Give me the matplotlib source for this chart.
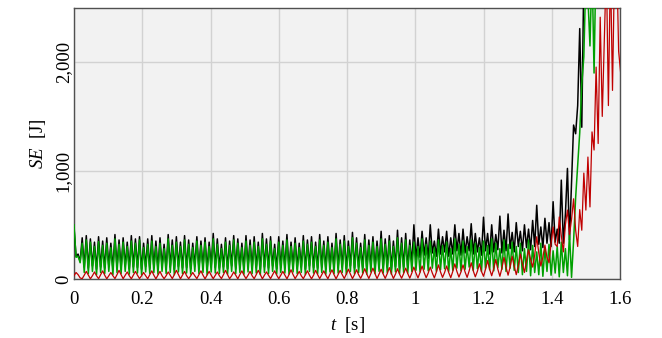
import numpy as np
import matplotlib
matplotlib.use("Agg")
import matplotlib.pyplot as plt
from matplotlib.ticker import FuncFormatter

t_step = 0.006

black_se = [
    470, 210, 230, 160, 380, 110, 400, 100, 370, 120, 340, 90, 390, 110, 350, 100, 380, 120, 330, 95,
    410, 110, 360, 100, 380, 120, 340, 95, 400, 110, 370, 105, 390, 90, 330, 115, 370, 100, 400, 110,
    350, 95, 380, 120, 320, 100, 410, 110, 360, 90, 390, 115, 340, 100, 400, 105, 360, 95, 330, 120,
    390, 100, 350, 110, 380, 90, 340, 115, 420, 105, 370, 100, 320, 110, 380, 95, 350, 120, 400, 100,
    370, 110, 330, 95, 400, 115, 360, 100, 390, 105, 340, 90, 420, 110, 370, 100, 390, 120, 320, 95,
    390, 110, 350, 105, 410, 95, 340, 115, 380, 100, 330, 110, 400, 90, 360, 120, 390, 105, 340, 100,
    410, 110, 350, 95, 390, 115, 330, 100, 420, 105, 360, 110, 400, 95, 350, 120, 430, 100, 380, 110,
    330, 105, 410, 95, 360, 115, 390, 100, 350, 120, 440, 105, 370, 110, 400, 95, 350, 115, 450, 100,
    380, 110, 420, 105, 360, 140, 500, 180, 380, 200, 440, 220, 380, 190, 500, 240, 350, 210, 460, 230,
    390, 250, 440, 210, 380, 230, 500, 260, 420, 220, 460, 240, 390, 260, 510, 230, 420, 250, 380, 220,
    570, 260, 420, 230, 500, 250, 410, 270, 580, 240, 450, 260, 600, 280, 430, 250, 520, 300, 440, 260,
    500, 290, 460, 270, 540, 300, 680, 320, 480, 290, 560, 330, 520, 300, 713, 340, 460, 330, 912, 330,
    600, 1020, 360, 900, 1420, 1340, 1600, 2310, 1400, 2800, 3000, 3200, 3100, 3400, 3300, 3600, 3500, 3700, 3600, 3900,
    3800, 4000, 3900, 4100, 4000, 4200, 4100, 4300,
]

green_se = [
    500, 200, 210, 150, 330, 60, 360, 50, 340, 70, 300, 40, 345, 60, 310, 50, 330, 70, 290, 40,
    370, 60, 320, 50, 340, 70, 300, 45, 350, 60, 330, 55, 360, 40, 290, 65, 320, 50, 350, 60,
    300, 45, 330, 70, 280, 50, 370, 60, 310, 40, 340, 65, 300, 50, 360, 55, 320, 45, 290, 70,
    350, 50, 310, 60, 340, 40, 300, 65, 370, 55, 320, 50, 280, 60, 340, 45, 310, 70, 360, 50,
    330, 60, 290, 45, 350, 65, 310, 50, 340, 55, 300, 40, 370, 60, 320, 50, 350, 70, 280, 45,
    340, 60, 310, 55, 360, 45, 300, 65, 330, 50, 290, 60, 350, 40, 320, 70, 340, 55, 300, 50,
    360, 60, 310, 45, 340, 65, 290, 50, 370, 55, 320, 60, 350, 45, 300, 70, 380, 50, 330, 60,
    290, 55, 360, 45, 310, 65, 340, 50, 300, 70, 370, 55, 320, 60, 350, 45, 300, 65, 380, 50,
    330, 60, 360, 55, 310, 70, 340, 80, 300, 65, 370, 90, 320, 75, 350, 100, 290, 70, 360, 85,
    310, 95, 340, 70, 280, 80, 370, 100, 320, 75, 350, 90, 300, 110, 360, 80, 330, 95, 290, 70,
    350, 100, 310, 85, 370, 75, 330, 105, 280, 90, 360, 70, 320, 100, 340, 80, 300, 60, 330, 40,
    280, 70, 360, 30, 310, 60, 250, 40, 330, 25, 290, 70, 320, 35, 260, 55, 300, 20, 340, 60,
    280, 30, 420, 15, 350, 750, 1050, 1350, 1800, 2050, 2800, 2600, 2150, 2900, 1900, 3000, 3300, 2900, 3400, 3100,
    3500, 3200, 3600, 3300, 3700, 3400, 3800, 3500,
]

red_se = [
    30, 60, 40, 10, 3, 35, 70, 35, 2, 30, 65, 30, 3, 40, 75, 35, 2, 30, 60, 30,
    4, 40, 80, 40, 3, 35, 65, 30, 2, 35, 70, 35, 4, 30, 60, 30, 3, 40, 75, 35,
    2, 35, 70, 30, 3, 30, 65, 35, 4, 40, 80, 40, 2, 35, 70, 30, 3, 30, 60, 30,
    4, 40, 75, 35, 2, 35, 70, 35, 3, 35, 65, 30, 4, 40, 80, 40, 3, 30, 65, 35,
    2, 40, 75, 35, 4, 35, 70, 30, 3, 40, 80, 40, 2, 35, 65, 35, 4, 40, 75, 35,
    3, 35, 70, 35, 2, 40, 85, 40, 4, 35, 70, 30, 3, 40, 75, 35, 2, 35, 80, 40,
    4, 40, 75, 35, 3, 45, 85, 40, 2, 40, 80, 40, 5, 45, 90, 45, 4, 40, 85, 40,
    6, 45, 95, 45, 5, 50, 100, 50, 4, 45, 90, 45, 6, 50, 105, 50, 5, 45, 95, 45,
    7, 50, 100, 50, 8, 55, 110, 55, 10, 60, 120, 60, 12, 55, 110, 55, 10, 65, 130, 65,
    15, 60, 120, 60, 12, 70, 140, 70, 18, 65, 130, 65, 15, 75, 150, 75, 20, 70, 140, 70,
    25, 90, 170, 90, 30, 95, 180, 90, 25, 100, 200, 110, 35, 110, 210, 120, 40, 120, 230, 140,
    60, 170, 270, 180, 110, 220, 390, 240, 120, 200, 313, 200, 150, 330, 480, 320, 300, 572, 400, 250,
    500, 636, 410, 550, 740, 450, 300, 640, 450, 977, 636, 1125, 665, 1357, 1190, 1955, 1250, 2415, 1500, 2200,
    2900, 1600, 2900, 1740, 2900, 3000, 2100, 1900,
]

x_ticks = [0, 0.2, 0.4, 0.6, 0.8, 1.0, 1.2, 1.4, 1.6]
y_ticks = [0, 1000, 2000]

# ---- style ----
plt.rcParams['font.family'] = ['Liberation Serif', 'DejaVu Serif']
plt.rcParams['mathtext.fontset'] = 'custom'
plt.rcParams['mathtext.rm'] = 'Liberation Serif'
plt.rcParams['mathtext.it'] = 'Liberation Serif:italic'

fig = plt.figure(figsize=(6.62, 3.38), dpi=100)
ax = fig.add_axes([74 / 662, 59 / 338, 546 / 662, 271 / 338])
ax.set_facecolor('#f2f2f2')

t_black = np.arange(len(black_se)) * t_step
t_green = np.arange(len(green_se)) * t_step
t_red = np.arange(len(red_se)) * t_step

ax.plot(t_black, black_se, color='black', lw=1.1, zorder=3)
ax.plot(t_green, green_se, color='#00a000', lw=1.1, zorder=4)
ax.plot(t_red, red_se, color='#c00000', lw=0.9, zorder=5)

ax.set_xlim(0, 1.6)
ax.set_ylim(0, 2500)
ax.set_xticks(x_ticks)
ax.set_yticks(y_ticks)
ax.xaxis.set_major_formatter(FuncFormatter(lambda v, p: f"{v:g}"))
ax.yaxis.set_major_formatter(FuncFormatter(lambda v, p: f"{int(v):,}"))
for lab in ax.get_yticklabels():
    lab.set_rotation(90)
    lab.set_va('center')
ax.tick_params(axis='x', length=0, labelsize=13.5, pad=8.5, colors='black')
ax.tick_params(axis='y', length=0, labelsize=13.5, pad=1.5, colors='black')
ax.grid(True, color='#d2d2d2', lw=1.0, zorder=0)
ax.set_axisbelow(True)
for s in ax.spines.values():
    s.set_color('#505050')
    s.set_linewidth(1.0)

ax.set_xlabel(r'$t$  [s]', fontsize=13.5, labelpad=5)
ax.set_ylabel(r'$SE$  [J]', fontsize=13.5, labelpad=5)

fig.savefig('out.png', dpi=100)
